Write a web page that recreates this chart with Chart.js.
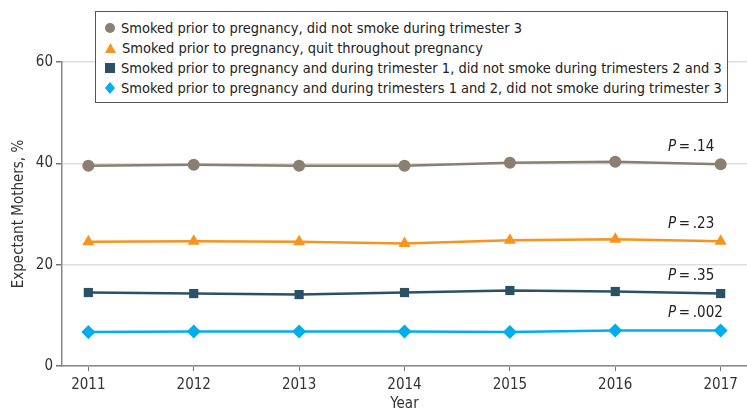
<!DOCTYPE html>
<html>
<head>
<meta charset="utf-8">
<script src="https://cdn.jsdelivr.net/npm/chart.js@4.4.1/dist/chart.umd.min.js"></script>
<style>
  html, body { margin: 0; padding: 0; background: #fff; }
  #wrap { position: relative; width: 747px; height: 413px; }
  #legend {
    position: absolute; left: 95px; top: 11px; width: 633px; height: 92px;
    border: 1px solid #555; background: #fff; box-sizing: border-box;
    font-family: "Liberation Sans Narrow", "DejaVu Sans Condensed", sans-serif;
    font-size: 14.5px; color: #222; padding: 6px 0 0 9px;
  }
  .row { height: 20px; line-height: 20px; white-space: nowrap; display: flex; align-items: center; }
  .row svg { margin-right: 6px; flex: none; }
</style>
</head>
<body>
<div id="wrap">
  <canvas id="chart" width="747" height="413"></canvas>
  <div id="legend"></div>
</div>
<script>
/* =========================
   Smoking cessation by year
========================= */
const GRAY = '#8a7f70';
const ORANGE = '#f7941d';
const TEAL = '#2b5264';
const CYAN = '#00aeef';
const FONT = '"Liberation Sans Narrow", "DejaVu Sans Condensed", sans-serif';

const years = [2011, 2012, 2013, 2014, 2015, 2016, 2017];
const yTicks = [0, 20, 40, 60];

const seriesNames = [
  'Smoked prior to pregnancy, did not smoke during trimester 3',
  'Smoked prior to pregnancy, quit throughout pregnancy',
  'Smoked prior to pregnancy and during trimester 1, did not smoke during trimesters 2 and 3',
  'Smoked prior to pregnancy and during trimesters 1 and 2, did not smoke during trimester 3'
];
const quitT3 = [39.5, 39.7, 39.5, 39.5, 40.1, 40.3, 39.8];
const quitAll = [24.5, 24.6, 24.5, 24.2, 24.8, 25.0, 24.6];
const quitT1 = [14.5, 14.3, 14.1, 14.5, 14.9, 14.7, 14.3];
const quitT2 = [6.7, 6.8, 6.8, 6.8, 6.7, 7.0, 7.0];
const pValues = ['.14', '.23', '.35', '.002'];

const colors = [GRAY, ORANGE, TEAL, CYAN];
const shapes = ['circle', 'triangle', 'rect', 'rectRot'];
const radii = [6, 7, 6.5, 7];
const values = [quitT3, quitAll, quitT1, quitT2];

// 1. Legend (HTML, overlays the chart like the original)
const svgMarks = {
  circle: c => `<svg width="10" height="10"><circle cx="5" cy="5" r="5" fill="${c}"/></svg>`,
  triangle: c => `<svg width="11" height="10"><polygon points="5.5,0 11,10 0,10" fill="${c}"/></svg>`,
  rect: c => `<svg width="10" height="10"><rect width="10" height="10" fill="${c}"/></svg>`,
  rectRot: c => `<svg width="10" height="12"><polygon points="5,0 10,6 5,12 0,6" fill="${c}"/></svg>`
};
document.getElementById('legend').innerHTML = seriesNames.map((name, i) =>
  `<div class="row">${svgMarks[shapes[i]](colors[i])}<span>${name}</span></div>`).join('');

// 2. P value labels beside the last points
const pLabelPlugin = {
  id: 'pLabels',
  afterDatasetsDraw(chart) {
    const { ctx, scales: { x, y } } = chart;
    ctx.save();
    ctx.fillStyle = '#222';
    ctx.textBaseline = 'middle';
    values.forEach((vals, i) => {
      const px = x.getPixelForValue(2016.5);
      const py = y.getPixelForValue(vals[vals.length - 1]) - 17;
      ctx.font = 'italic 15px ' + FONT;
      ctx.fillText('P', px, py);
      const w = ctx.measureText('P').width;
      ctx.font = '15px ' + FONT;
      ctx.fillText('\u2009=\u2009' + pValues[i], px + w, py);
    });
    ctx.restore();
  }
};

// 3. Chart
new Chart(document.getElementById('chart'), {
  type: 'line',
  data: {
    datasets: values.map((vals, i) => ({
      label: seriesNames[i],
      data: vals.map((v, j) => ({ x: years[j], y: v })),
      borderColor: colors[i],
      backgroundColor: colors[i],
      borderWidth: 2.5,
      pointStyle: shapes[i],
      pointRadius: radii[i],
      pointBorderWidth: 0,
      tension: 0
    }))
  },
  options: {
    responsive: false,
    animation: false,
    layout: { autoPadding: false, padding: { top: 62, right: 0, left: 0, bottom: 0 } },
    plugins: { legend: { display: false }, tooltip: { enabled: false } },
    scales: {
      x: {
        type: 'linear',
        min: 2010.75,
        max: 2017.25,
        afterBuildTicks: s => { s.ticks = years.map(v => ({ value: v })); },
        afterFit: s => { s.height = 47; s.paddingRight = 0; s.paddingLeft = 0; },
        grid: { drawOnChartArea: false, tickLength: 5, tickColor: '#777' },
        border: { color: '#888', width: 1.5 },
        ticks: { color: '#333', font: { family: FONT, size: 15 }, padding: 5, callback: v => String(v) },
        title: { display: true, text: 'Year', color: '#333', font: { family: FONT, size: 15 }, padding: { top: 4, bottom: 0 } }
      },
      y: {
        min: 0,
        max: 60,
        afterBuildTicks: s => { s.ticks = yTicks.map(v => ({ value: v })); },
        afterFit: s => { s.width = 62; s.paddingTop = 0; s.paddingBottom = 0; },
        grid: { color: '#dedede', lineWidth: 1.5, tickLength: 6, tickColor: '#777' },
        border: { color: '#888', width: 1.5 },
        ticks: { color: '#333', font: { family: FONT, size: 15 }, padding: 3 },
        title: { display: true, text: 'Expectant Mothers, %', color: '#333', font: { family: FONT, size: 15 }, padding: { top: 10, bottom: 4 } }
      }
    }
  },
  plugins: [pLabelPlugin]
});
</script>
</body>
</html>
